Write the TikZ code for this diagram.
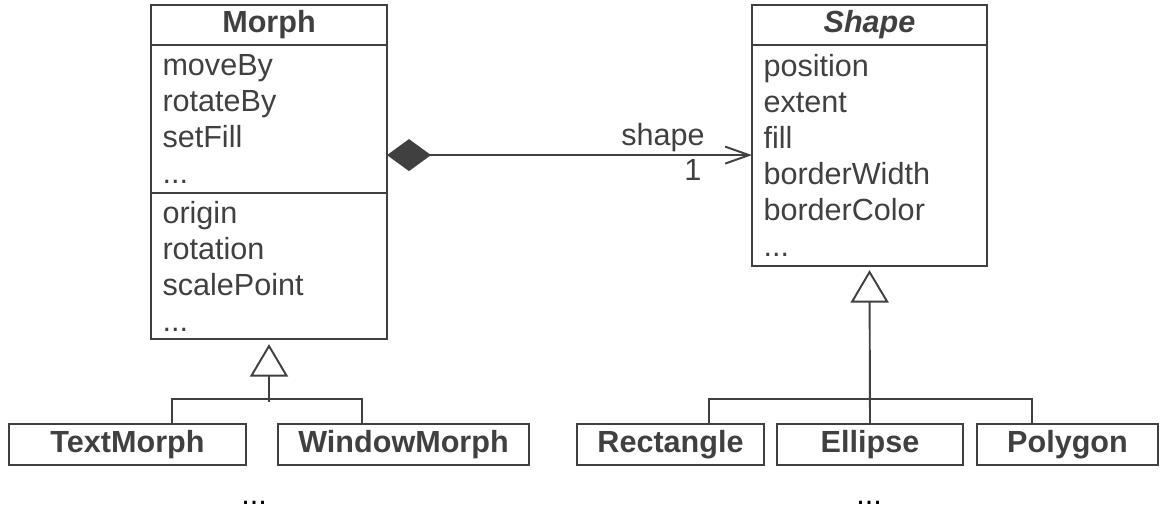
\documentclass[tikz,border=0pt]{standalone}
\usepackage{fontspec}
\setmainfont{Liberation Sans}
\usetikzlibrary{positioning,arrows.meta}
\definecolor{umlgray}{HTML}{404040}
\newcommand{\umlfont}{\fontsize{17.4}{20.5}\selectfont}
\tikzset{
  classhead/.style={draw, outer sep=0pt, minimum height=0.72cm, font=\umlfont\bfseries},
  classbody/.style={draw, outer sep=0pt, align=left, inner xsep=0.23cm, inner ysep=0pt},
  leaf/.style={draw, minimum height=0.74cm, font=\umlfont\bfseries},
  more/.style={text=black, anchor=base, inner sep=0pt},
  inherit/.style={-{Triangle[open,fill=white,length=0.65cm,width=0.76cm]}},
  compose/.style={{Diamond[length=0.88cm,width=0.64cm]}-{Straight Barb[length=0.48cm,width=0.34cm]}},
}

\begin{document}
\begin{tikzpicture}[color=umlgray, line width=1.1pt, font=\umlfont]
            \useasboundingbox (0,0) rectangle (23.22,-10.2);
            % Morph
            \node[classhead, minimum width=4.72cm] at (5.38,-0.5) (morph) {Morph};
            \node[classbody, text width=4.26cm, minimum height=2.96cm, below=0pt of morph] (morphops) {moveBy\\rotateBy\\setFill\\...};
            \node[classbody, text width=4.26cm, minimum height=2.92cm, below=0pt of morphops] (morphattr) {origin\\rotation\\scalePoint\\...};
            % Shape
            \node[classhead, minimum width=4.70cm, font=\umlfont\bfseries\itshape] at (17.39,-0.5) (shape) {Shape};
            \node[classbody, text width=4.24cm, minimum height=4.42cm, below=0pt of shape] (shapeattr) {position\\extent\\fill\\borderWidth\\borderColor\\...};
            % subclasses
            \node[leaf, minimum width=4.74cm] at (2.55,-8.89) (textm) {TextMorph};
            \node[leaf, minimum width=5.02cm] at (8.07,-8.89) (winm) {WindowMorph};
            \node[leaf, minimum width=3.74cm] at (13.41,-8.89) (rect) {Rectangle};
            \node[leaf, minimum width=3.72cm] at (17.40,-8.89) (ell) {Ellipse};
            \node[leaf, minimum width=3.62cm] at (21.35,-8.89) (poly) {Polygon};
            \node[more] at (5.08,-10.08) (moremorphs) {...};
            \node[more] at (17.38,-10.08) (moreshapes) {...};
            % connectors
            \coordinate (owner) at ([yshift=-0.72cm]morphops.east);
            \coordinate (morphjoin) at (5.38,-8.04);
            \draw[compose] (owner) -- (owner -| shapeattr.west)
                node[pos=0.756, above, inner sep=1.5pt] {shape}
                node[pos=0.838, below, inner sep=2pt] {1};
            \draw ([xshift=0.89cm]textm.north) -- ++(0,0.48) -| ([xshift=-0.83cm]winm.north);
            \draw[inherit, shorten >=0.1cm] (morphjoin) -- (morphattr.south);
            \draw ([xshift=0.77cm]rect.north) -- ++(0,0.48) -| ([xshift=-0.71cm]poly.north);
            \draw[inherit, shorten >=0.08cm] (ell.north) -- (shapeattr.south);
        \end{tikzpicture}
\end{document}
